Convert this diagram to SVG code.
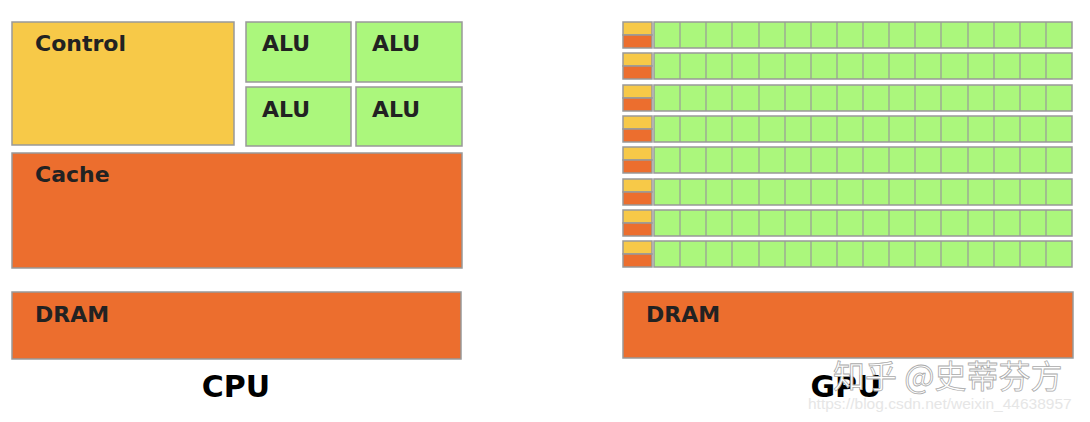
<svg xmlns="http://www.w3.org/2000/svg" xmlns:xlink="http://www.w3.org/1999/xlink" width="1090" height="422" viewBox="0 0 1090 422">
<style>
.b{stroke:#999;stroke-width:1.5}
.y{fill:#f7c948}.o{fill:#ec6e2e}.g{fill:#abf77c}
.t{font-family:"DejaVu Sans",sans-serif;font-weight:bold;font-size:22px;fill:#222}
.h{font-family:"DejaVu Sans",sans-serif;font-weight:bold;font-size:30px;fill:#000}
</style>
<defs>
<g id="row">
<rect class="b y" x="623" y="0" width="29" height="13"/>
<rect class="b o" x="623" y="13" width="29" height="13"/>
<rect class="b g" x="654" y="0" width="418" height="26"/>
<path stroke="#999" stroke-width="1.2" d="M680 0v26M706 0v26M732 0v26M759 0v26M785 0v26M811 0v26M837 0v26M863 0v26M889 0v26M915 0v26M941 0v26M968 0v26M994 0v26M1020 0v26M1046 0v26"/>
</g>
</defs>
<rect width="1090" height="422" fill="#fff"/>
<g id="cpu">
<g id="control"><rect class="b y" x="12" y="22" width="222" height="123"/><text class="t" x="35" y="51">Control</text></g>
<g id="alu1"><rect class="b g" x="246" y="22" width="105" height="60"/><text class="t" x="262" y="51">ALU</text></g>
<g id="alu2"><rect class="b g" x="356" y="22" width="106" height="60"/><text class="t" x="372" y="51">ALU</text></g>
<g id="alu3"><rect class="b g" x="246" y="87" width="105" height="59"/><text class="t" x="262" y="117">ALU</text></g>
<g id="alu4"><rect class="b g" x="356" y="87" width="106" height="59"/><text class="t" x="372" y="117">ALU</text></g>
<g id="cache"><rect class="b o" x="12" y="153" width="450" height="115"/><text class="t" x="35" y="182">Cache</text></g>
<g id="dram1"><rect class="b o" x="12" y="292" width="449" height="67"/><text class="t" x="35" y="322">DRAM</text></g>
<text class="h" x="236" y="397" text-anchor="middle">CPU</text>
</g>
<g id="gpu">
<use xlink:href="#row" y="22"/><use xlink:href="#row" y="53"/><use xlink:href="#row" y="85"/><use xlink:href="#row" y="116"/>
<use xlink:href="#row" y="147"/><use xlink:href="#row" y="179"/><use xlink:href="#row" y="210"/><use xlink:href="#row" y="241"/>
<g id="dram2"><rect class="b o" x="623" y="292" width="450" height="66"/><text class="t" x="646" y="322">DRAM</text></g>
<text class="h" x="846" y="397" text-anchor="middle">GPU</text>
</g>
<text x="833" y="388" font-family="'Noto Sans CJK SC',sans-serif" font-size="32" fill="#fff" stroke="#aaa" stroke-width="0.8">知乎 @史蒂芬方</text>
<text x="808" y="409" font-family="'Liberation Sans',sans-serif" font-size="15.5" fill="#e6e6e6">https://blog.csdn.net/weixin_44638957</text>
</svg>
